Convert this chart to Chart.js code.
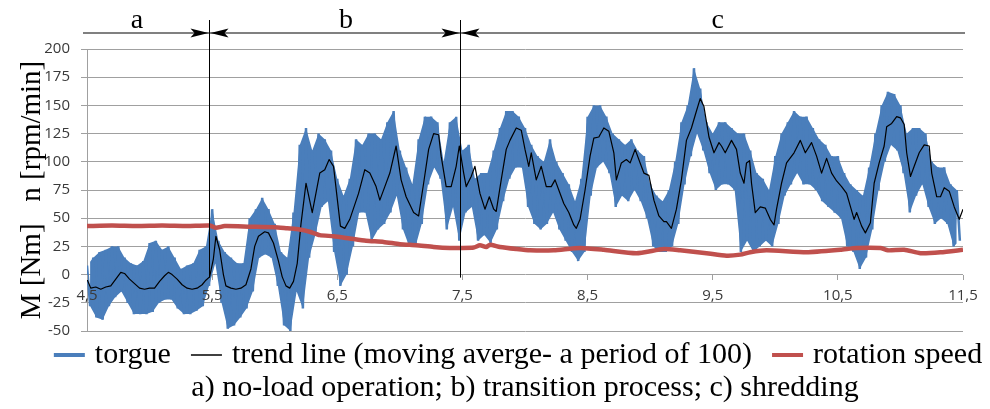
<!DOCTYPE html>
<html>
<head>
<meta charset="utf-8">
<script src="https://cdn.jsdelivr.net/npm/chart.js@4.4.0/dist/chart.umd.min.js"></script>
<style>
    html, body { margin: 0; padding: 0; background: #fff; }
    #wrap { width: 990px; height: 409px; }
</style>
</head>
<body>
<div id="wrap"><canvas id="chart" width="990" height="409"></canvas></div>
<script>
// Shredder start-up: torque, its moving average and rotation speed

const xTickValues = [4.5, 5.5, 6.5, 7.5, 8.5, 9.5, 10.5, 11.5];
const xTickLabels = ['4,5', '5,5', '6,5', '7,5', '8,5', '9,5', '10,5', '11,5'];

const seriesNames = ['torgue', 'trend line (moving averge- a period of 100)', 'rotation speed'];
const yTitle = 'M [Nm]   n [rpm/min]';
const caption = 'a) no-load operation; b) transition process; c) shredding';

// phase borders and labels (time, s)
const phaseBounds = [5.475, 7.48];
const phaseNames = ['a', 'b', 'c'];
const phaseLabelAt = [4.9, 6.57, 9.54];

// torque: highest and lowest value in every 0.05 s slice from 4.50 s
const torqueStart = 4.5;
const torqueStep = 0.05;
const torqueHigh = [
    8, 15, 20, 22, 25, 25, 15, 10, 8, 12,
    28, 30, 22, 25, 15, 5, 8, 10, 22, 25,
    58, 30, 20, 15, 10, 10, 50, 58, 68, 58,
    45, 20, 15, 55, 115, 130, 110, 125, 120, 110,
    85, 70, 85, 120, 115, 125, 125, 120, 135, 145,
    110, 95, 80, 120, 140, 140, 135, 100, 135, 140,
    110, 115, 85, 90, 90, 110, 130, 145, 145, 140,
    130, 115, 105, 100, 120, 100, 90, 80, 65, 85,
    140, 150, 150, 140, 125, 120, 115, 120, 110, 105,
    80, 70, 65, 75, 100, 135, 150, 183, 165, 135,
    125, 135, 135, 130, 125, 125, 110, 90, 85, 75,
    105, 125, 135, 145, 140, 140, 130, 120, 115, 105,
    105, 90, 80, 75, 70, 95, 125, 150, 162, 160,
    150, 125, 130, 130, 125, 100, 95, 95, 80, 75
];
const torqueLow = [
    -28, -38, -40, -28, -20, -15, -25, -35, -35, -35,
    -33, -25, -22, -22, -30, -35, -35, -32, -28, -10,
    10, -25, -48, -45, -38, -30, -15, 15, 18, 15,
    -10, -45, -50, -15, -30, 15, 35, 60, 65, 20,
    -10, 0, 25, 55, 55, 30, 40, 45, 55, 70,
    40, 25, 25, 45, 80, 95, 85, 40, 60, 30,
    55, 60, 30, 35, 28, 40, 65, 85, 95, 95,
    60, 45, 40, 45, 55, 40, 30, 20, 12, 20,
    70, 95, 100, 90, 60, 70, 65, 75, 65, 50,
    25, 20, 20, 25, 45, 80, 105, 125, 110, 90,
    75, 80, 80, 75, 20, 30, 20, 25, 30, 25,
    45, 70, 80, 90, 80, 80, 75, 65, 60, 55,
    50, 25, 20, 5, 15, 40, 75, 100, 115, 110,
    90, 55, 70, 80, 60, 45, 50, 45, 25, 30
];

// moving average (period 100)
const trendTime = [
    4.50, 4.53, 4.57, 4.61, 4.65, 4.69, 4.73, 4.77, 4.80, 4.84,
    4.88, 4.92, 4.96, 5.00, 5.04, 5.08, 5.12, 5.15, 5.18, 5.22,
    5.26, 5.30, 5.34, 5.38, 5.42, 5.45, 5.48, 5.51, 5.53, 5.56,
    5.59, 5.61, 5.65, 5.69, 5.73, 5.77, 5.81, 5.84, 5.87, 5.92,
    5.95, 5.99, 6.03, 6.06, 6.09, 6.12, 6.15, 6.18, 6.21, 6.25,
    6.30, 6.36, 6.40, 6.435, 6.47, 6.525, 6.56, 6.60, 6.67, 6.72,
    6.76, 6.81, 6.84, 6.88, 6.92, 6.97, 7.01, 7.05, 7.11, 7.15,
    7.19, 7.23, 7.27, 7.31, 7.33, 7.37, 7.41, 7.45, 7.475, 7.51,
    7.53, 7.57, 7.60, 7.64, 7.68, 7.715, 7.75, 7.77, 7.81, 7.85,
    7.88, 7.93, 7.97,
    8.00, 8.03, 8.05, 8.09, 8.13, 8.17, 8.21, 8.24, 8.27, 8.31,
    8.35, 8.39, 8.41, 8.44, 8.48, 8.52, 8.55, 8.59, 8.63, 8.67,
    8.71, 8.73, 8.77, 8.81, 8.84, 8.88, 8.92, 8.95, 8.99, 9.03,
    9.07, 9.11, 9.13, 9.17, 9.21, 9.25, 9.29, 9.33, 9.37, 9.40,
    9.43, 9.47, 9.51, 9.55, 9.57, 9.60, 9.65, 9.69,
    9.72, 9.75, 9.77, 9.795, 9.81, 9.84, 9.88, 9.92, 9.96, 9.99,
    10.01, 10.05, 10.09, 10.15, 10.20, 10.24, 10.29, 10.33, 10.37, 10.41,
    10.45, 10.49, 10.53, 10.57, 10.63, 10.65, 10.69, 10.72, 10.76, 10.79,
    10.83, 10.87, 10.89, 10.93, 10.97, 11.00, 11.03, 11.05, 11.08, 11.11,
    11.15, 11.19, 11.23, 11.25, 11.29, 11.32, 11.35, 11.39, 11.43, 11.47,
    11.5
];
const trendValue = [
    -4, -12, -11, -13, -11, -10, -4, 2, 1, -4,
    -8, -12, -13, -12, -12, -6, -1, 2, 0, -4,
    -9, -12, -13, -12, -9, -5, -2, 14, 34, 22,
    0, -10, -12, -13, -12, -9, 5, 25, 34, 38,
    37, 28, 12, -2, -10, -12, -6, 10, 45, 81,
    55, 90, 93, 102, 96, 43, 41, 49, 72, 93,
    90, 78, 66, 78, 90, 114, 84, 69, 55, 52,
    81, 111, 125, 124, 105, 78, 78, 96, 114, 90,
    78, 87, 96, 72, 58, 69, 58, 56, 84, 111,
    119, 130, 128,
    111, 96, 108, 84, 96, 78, 78, 84, 75, 63,
    55, 44, 41, 49, 75, 105, 121, 122, 130, 127,
    108, 84, 99, 102, 99, 111, 99, 90, 88, 66,
    52, 47, 47, 41, 58, 84, 119, 130, 145, 156,
    149, 122, 108, 117, 114, 108, 119, 111,
    90, 81, 99, 101, 81, 55, 60, 59, 49, 44,
    58, 81, 99, 108, 119, 108, 117, 105, 90, 103,
    90, 83, 78, 72, 49, 55, 43, 37, 46, 81,
    99, 114, 131, 134, 140, 139, 133, 108, 87, 96,
    108, 115, 114, 90, 69, 69, 77, 74, 60, 49,
    58
];

// rotation speed
const speedTime = [
    4.5, 4.7, 4.9, 5.1, 5.3, 5.48, 5.53, 5.6, 5.8, 6.0,
    6.1, 6.2, 6.28, 6.36, 6.47, 6.6, 6.73, 6.87, 7.0, 7.13,
    7.27, 7.4, 7.49, 7.59, 7.64, 7.69, 7.72, 7.8, 7.93, 8.04,
    8.23, 8.44, 8.63, 8.89, 9.11, 9.24, 9.45, 9.61, 9.72, 9.8,
    9.93, 10.25, 10.52, 10.65, 10.84, 10.9, 11.03, 11.16, 11.32, 11.5
];
const speedValue = [
    43, 43.5, 43, 43.5, 43, 43.5, 41.5, 43, 42.5, 42,
    41, 40, 38, 35, 34, 32, 30, 29, 27, 26,
    24.5, 23.6, 23.6, 24, 26, 24.5, 26.5, 24.5, 22.7, 21.5,
    21.5, 23.6, 22, 19, 22.7, 21.5, 19, 16.8, 17.7, 19.8,
    21.5, 19.8, 22, 23.6, 23.6, 21.5, 22, 19, 19.8, 22
];

// torque slices drawn as max / min zigzag, plus the band between them
const torquePoints = [];
const torqueTop = [];
const torqueBottom = [];
torqueHigh.forEach((hi, i) => {
    const t = torqueStart + i * torqueStep;
    torquePoints.push({ x: t, y: hi });
    torquePoints.push({ x: t + torqueStep / 2, y: torqueLow[i] });
    torqueTop.push({ x: t, y: hi });
    torqueBottom.push({ x: t + torqueStep / 2, y: torqueLow[i] });
});
const trendPoints = trendTime.map((t, i) => ({ x: t, y: trendValue[i] }));
const speedPoints = speedTime.map((t, i) => ({ x: t, y: speedValue[i] }));

const SERIF = '"Liberation Serif", "Times New Roman", serif';
const SANS = '"Open Sans", "Liberation Sans", sans-serif';
const BLUE = '#4a7ebb';

// phase borders with arrows and a / b / c labels above the plot
const phaseMarks = {
    id: 'phaseMarks',
    afterDatasetsDraw(chart) {
        const { ctx, chartArea, scales: { x, y } } = chart;
        const lineY = chartArea.top - 16;
        ctx.save();
        ctx.strokeStyle = '#808080';
        ctx.lineWidth = 2;
        ctx.beginPath();
        ctx.moveTo(chartArea.left - 4, lineY);
        ctx.lineTo(chartArea.right + 2, lineY);
        ctx.stroke();

        phaseBounds.forEach(b => {
            const px = Math.round(x.getPixelForValue(b)) + 0.5;
            ctx.strokeStyle = '#000';
            ctx.lineWidth = 1;
            ctx.beginPath();
            ctx.moveTo(px, chartArea.top - 29);
            ctx.lineTo(px, y.getPixelForValue(0) + 3);
            ctx.stroke();
            ctx.fillStyle = '#000';
            [-1, 1].forEach(side => {
                ctx.beginPath();
                ctx.moveTo(px + side * 1, lineY);
                ctx.lineTo(px + side * 19, lineY - 4.5);
                ctx.lineTo(px + side * 15, lineY);
                ctx.lineTo(px + side * 19, lineY + 4.5);
                ctx.closePath();
                ctx.fill();
            });
        });

        ctx.font = '28px ' + SERIF;
        ctx.fillStyle = '#000';
        ctx.textAlign = 'center';
        ctx.textBaseline = 'alphabetic';
        phaseNames.forEach((n, i) => {
            ctx.fillText(n, x.getPixelForValue(phaseLabelAt[i]), chartArea.top - 21);
        });
        ctx.restore();
    }
};

// one-row legend under the plot
const legendRow = {
    id: 'legendRow',
    afterDraw(chart) {
        const { ctx, chartArea } = chart;
        const dash = 31, gap = 10, spacing = 20;
        ctx.save();
        ctx.font = '30px ' + SERIF;
        const items = chart.data.datasets.filter(ds => ds.legendWidth).map(ds => ({
            label: ds.label,
            color: ds.borderColor,
            width: ds.legendWidth,
            w: ctx.measureText(ds.label).width
        }));
        const total = items.reduce((s, it) => s + dash + gap + it.w, 0) + spacing * (items.length - 1);
        let cx = (chartArea.left + chartArea.right) / 2 - 7 - total / 2;
        const cy = chartArea.bottom + 24;
        ctx.textBaseline = 'middle';
        ctx.textAlign = 'left';
        items.forEach(it => {
            ctx.strokeStyle = it.color;
            ctx.lineWidth = it.width;
            ctx.beginPath();
            ctx.moveTo(cx, cy);
            ctx.lineTo(cx + dash, cy);
            ctx.stroke();
            cx += dash + gap;
            ctx.fillStyle = '#000';
            ctx.fillText(it.label, cx, cy);
            cx += it.w + spacing;
        });
        ctx.restore();
    }
};

new Chart(document.getElementById('chart'), {
    type: 'line',
    data: {
        datasets: [
            {
                label: seriesNames[0],
                data: torquePoints,
                borderColor: BLUE,
                borderWidth: 2.5,
                legendWidth: 4,
                borderJoinStyle: 'bevel',
                pointRadius: 0,
                tension: 0,
                order: 3
            },
            {
                label: seriesNames[1],
                data: trendPoints,
                borderColor: '#000000',
                borderWidth: 1.2,
                legendWidth: 1.5,
                borderJoinStyle: 'round',
                pointRadius: 0,
                tension: 0,
                order: 2
            },
            {
                label: seriesNames[2],
                data: speedPoints,
                borderColor: '#c0504d',
                borderWidth: 4.5,
                legendWidth: 4,
                borderJoinStyle: 'round',
                pointRadius: 0,
                tension: 0.2,
                order: 1
            },
            {
                label: 'torque band top',
                data: torqueTop,
                borderWidth: 0,
                backgroundColor: BLUE,
                fill: '+1',
                pointRadius: 0,
                tension: 0,
                order: 4
            },
            {
                label: 'torque band bottom',
                data: torqueBottom,
                borderWidth: 0,
                fill: false,
                pointRadius: 0,
                tension: 0,
                order: 5
            }
        ]
    },
    options: {
        responsive: false,
        animation: false,
        events: [],
        layout: { padding: { top: 49, right: 27, bottom: 0, left: 0 } },
        scales: {
            x: {
                type: 'linear',
                min: 4.5,
                max: 11.5,
                position: { y: 0 },
                afterBuildTicks: scale => {
                    scale.ticks = xTickValues.map(v => ({ value: v }));
                },
                ticks: {
                    z: 1,
                    autoSkip: false,
                    maxRotation: 0,
                    padding: 7,
                    color: '#3a3a3a',
                    font: { family: SANS, size: 15 },
                    callback: (v, i) => xTickLabels[i]
                },
                grid: {
                    z: 1,
                    drawOnChartArea: false,
                    drawTicks: true,
                    tickLength: 5,
                    color: '#a0a0a0'
                },
                border: { display: false }
            },
            y: {
                min: -50,
                max: 200,
                afterFit: scale => { scale.width = 87; },
                ticks: {
                    stepSize: 25,
                    padding: 11,
                    color: '#3a3a3a',
                    font: { family: SANS, size: 15 }
                },
                grid: {
                    color: '#a0a0a0',
                    tickLength: 6
                },
                border: { color: '#a0a0a0' },
                title: {
                    display: true,
                    text: yTitle,
                    color: '#000',
                    font: { family: SERIF, size: 29, lineHeight: 1 },
                    padding: { top: 17.5, bottom: 0 }
                }
            }
        },
        plugins: {
            legend: { display: false },
            tooltip: { enabled: false },
            filler: { propagate: false },
            title: {
                display: true,
                text: caption,
                position: 'bottom',
                fullSize: false,
                color: '#000',
                font: { family: SERIF, size: 30, weight: 'normal', lineHeight: 1 },
                padding: { top: 42, bottom: 6 }
            }
        }
    },
    plugins: [phaseMarks, legendRow]
});
</script>
</body>
</html>
